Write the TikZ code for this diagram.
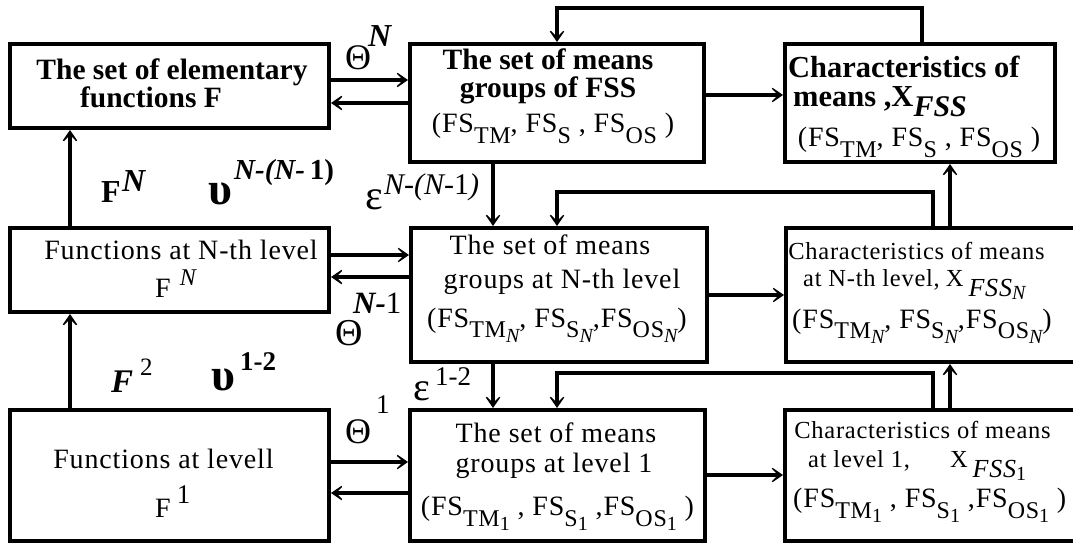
\documentclass[tikz,border=0pt]{standalone}
\usepackage{fontspec}
\setmainfont{Liberation Serif}
\newfontfamily\rs[LetterSpace=3]{Liberation Serif}
\usetikzlibrary{arrows.meta}
\newcommand{\fsz}[1]{\fontsize{#1}{#1}\selectfont}
\newcommand{\sbx}[2][11pt]{\raisebox{-#1}{\fsz{24}#2}}
\newcommand{\ssb}[2][5pt]{\raisebox{-#1}{\fsz{20}#2}}
\begin{document}
\begin{tikzpicture}[x=1pt,y=-1pt,
  box/.style={draw,line width=4pt,inner sep=0pt},
  arr/.style={line width=3.3pt,-{Stealth[length=16pt,width=22pt,inset=11pt]}},
  txt/.style={anchor=base,inner sep=0pt,text depth=0pt},
  txtl/.style={anchor=base west,inner sep=0pt,text depth=0pt}]
\useasboundingbox (0,0) rectangle (1073,545);
% boxes
\node[box,minimum width=319pt,minimum height=84pt]  (B1) at (169.5,86) {};
\node[box,minimum width=294pt,minimum height=118pt] (B2) at (557,103) {};
\node[box,minimum width=270pt,minimum height=118pt] (B3) at (920,103) {};
\node[box,minimum width=319pt,minimum height=84pt]  (B4) at (169.5,270) {};
\node[box,minimum width=296pt,minimum height=134pt] (B5) at (559,295) {};
\node[box,minimum width=299pt,minimum height=134pt] (B6) at (935.5,295) {};
\node[box,minimum width=319pt,minimum height=131pt] (B7) at (169.5,475.5) {};
\node[box,minimum width=295pt,minimum height=131pt] (B8) at (557.5,475.5) {};
\node[box,minimum width=300pt,minimum height=131pt] (B9) at (935,475.5) {};
% box texts
\node[txt,align=center,font={\fontsize{29.5}{28}\selectfont\bfseries}] (t1a) at (172,108) {The set of elementary\\ functions F\hspace*{42pt}};
\node[txt,align=center,font={\fontsize{29.5}{28.5}\selectfont\bfseries}] (t2a) at (548,98) {The set of means\\ groups of FSS};
\node[txt] (t2c) at (553,133) {\rs\fsz{28}(FS\sbx{TM}, FS\sbx{S} , FS\sbx{OS} )};
\node[txtl,align=left,font={\fontsize{30.5}{29.5}\selectfont\bfseries}] (t3a) at (788,107) {Characteristics of\\ \hspace*{5pt}means ,X\raisebox{-10pt}{\fsz{30}\itshape FSS}};
\node[txt] (t3c) at (919,147) {\rs\fsz{28}(FS\sbx{TM}, FS\sbx{S} , FS\sbx{OS} )};
\node[txt] (t4a) at (181,260) {\rs\fsz{28}Functions at N-th level};
\node[txtl] (t4b) at (155,298) {\rs\fsz{28}F\hspace{9pt}\raisebox{13pt}{\fsz{24}\itshape N}};
\node[txt] (t5a) at (550,255) {\rs\fsz{28}The set of means};
\node[txt] (t5b) at (562,288) {\rs\fsz{28}groups at N-th level};
\node[txt] (t5c) at (557,327) {\rs\fsz{28}(FS\sbx[10pt]{TM\ssb{\itshape N}}, FS\sbx[10pt]{S\ssb{\itshape N}},FS\sbx[10pt]{OS\ssb{\itshape N}})};
\node[txt] (t6a) at (916.5,260) {\rs\fsz{24.5}Characteristics of means};
\node[txtl] (t6b) at (803,287) {\rs\fsz{24.5}at N-th level,\hspace{6pt}X\hspace{5pt}\raisebox{-10pt}{\fsz{26}\itshape FSS\raisebox{-3pt}{\fsz{20}N}}};
\node[txtl] (t6c) at (792,328) {\rs\fsz{28}(FS\sbx[10pt]{TM\ssb{\itshape N}}, FS\sbx[10pt]{S\ssb{\itshape N}},FS\sbx[10pt]{OS\ssb{\itshape N}})};
\node[txt] (t7a) at (163.5,468) {\rs\fsz{28}Functions at levell};
\node[txtl] (t7b) at (155,517) {\rs\fsz{28}F\hspace{6pt}\raisebox{14pt}{\fsz{27}1}};
\node[txt] (t8a) at (556,442) {\rs\fsz{28}The set of means};
\node[txt] (t8b) at (554,472) {\rs\fsz{28}groups at level 1};
\node[txt] (t8c) at (557.5,515) {\rs\fsz{28}(FS\sbx{TM\ssb[4pt]{1}} , FS\sbx{S\ssb[4pt]{1}} ,FS\sbx{OS\ssb[4pt]{1}} )};
\node[txt] (t9a) at (922.5,438) {\rs\fsz{24.5}Characteristics of means};
\node[txtl] (t9b) at (808,467) {\rs\fsz{24.5}at level 1,\hspace{40pt}X\hspace{5pt}\raisebox{-10pt}{\fsz{26}\itshape FSS\raisebox{-3pt}{\fsz{20}\upshape 1}}};
\node[txtl] (t9c) at (793,507) {\rs\fsz{28}(FS\sbx{TM\ssb[4pt]{1}} , FS\sbx{S\ssb[4pt]{1}} ,FS\sbx{OS\ssb[4pt]{1}} )};
% connector labels
\node[txtl] (thN) at (345,70) {\fsz{36}Θ};
\node[txtl] (thNs) at (368,47) {\fsz{32}\bfseries\itshape N};
\node[txtl] (FN) at (101,203) {\fsz{32}\bfseries F};
\node[txtl] (FNs) at (122,192) {\fsz{32}\bfseries\itshape N};
\node[txtl] (u1) at (208,205) {\fsz{46}\bfseries υ};
\node[txtl] (u1s) at (234,180) {\fsz{29}\bfseries\itshape N-(N-\,\upshape 1)};
\node[txtl] (e1) at (365,210) {\fsz{42}ε};
\node[txtl] (e1s) at (384,195) {\fsz{30}\itshape N-(N-\upshape 1\itshape )};
\node[txtl] (thMs) at (353,313) {\fsz{31}\bfseries\itshape N-\mdseries\upshape 1};
\node[txtl] (thM) at (335,345) {\fsz{38}Θ};
\node[txtl] (F2) at (111,392) {\fsz{33}\bfseries\itshape F};
\node[txtl] (F2s) at (140,375) {\fsz{25}2};
\node[txtl] (u2) at (211,390) {\fsz{46}\bfseries υ};
\node[txtl] (u2s) at (240,370) {\fsz{27}\bfseries 1-2};
\node[txtl] (e2) at (413,400) {\fsz{40}ε};
\node[txtl] (e2s) at (435,385) {\fsz{27}1-2};
\node[txtl] (th1) at (345,443) {\fsz{36}Θ};
\node[txtl] (th1s) at (376,413) {\fsz{27}1};
% feedback corners
\coordinate (k1) at (557,8);
\coordinate (k2) at (557,192);
\coordinate (k3) at (557,373);
% connectors
\draw[arr] (B1.east |- 0,80) -- (B2.west |- 0,80);
\draw[arr] (B2.west |- 0,103) -- (B1.east |- 0,103);
\draw[arr] (B2.east |- 0,95) -- (B3.west |- 0,95);
\draw[arr] (B3.north -| 922,0) |- (k1) -- (B2.north -| k1);
\draw[arr] (B2.south -| 493,0) -- (B5.north -| 493,0);
\draw[arr] (B6.north -| 933,0) |- (k2) -- (B5.north -| k2);
\draw[arr] (B6.north -| 950,0) -- (B3.south -| 950,0);
\draw[arr] (B4.east |- 0,255) -- (B5.west |- 0,255);
\draw[arr] (B5.west |- 0,277) -- (B4.east |- 0,277);
\draw[arr] (B5.east |- 0,295) -- (B6.west |- 0,295);
\draw[arr] (B4.north -| 70,0) -- (B1.south -| 70,0);
\draw[arr] (B7.north -| 70,0) -- (B4.south -| 70,0);
\draw[arr] (B5.south -| 493,0) -- (B8.north -| 493,0);
\draw[arr] (B9.north -| 933,0) |- (k3) -- (B8.north -| k3);
\draw[arr] (B9.north -| 950,0) -- (B6.south -| 950,0);
\draw[arr] (B7.east |- 0,462) -- (B8.west |- 0,462);
\draw[arr] (B8.west |- 0,493) -- (B7.east |- 0,493);
\draw[arr] (B8.east |- 0,475) -- (B9.west |- 0,475);
\end{tikzpicture}
\end{document}
